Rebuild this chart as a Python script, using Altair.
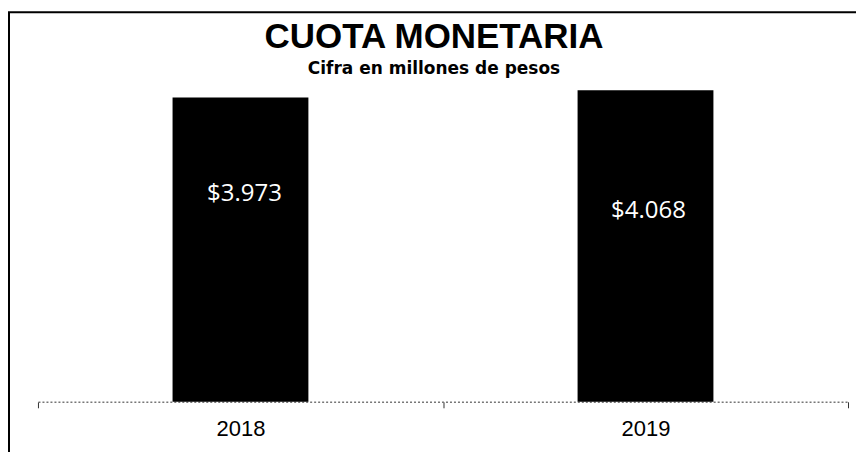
import altair as alt
import pandas as pd

years = ["2018", "2019"]
values = [3973, 4068]
labels = ["$3.973", "$4.068"]

df = pd.DataFrame({"year": years, "value": values, "label": labels})

base = alt.Chart(df)

xenc = alt.X(
    "year:N",
    title=None,
    scale=alt.Scale(paddingInner=0, paddingOuter=0),
    axis=alt.Axis(
        labelAngle=0,
        labelFont="Liberation Sans",
        labelFontSize=22,
        labelColor="black",
        labelPadding=11,
        domainColor="#777777",
        domainDash=[2, 2],
        domainWidth=1.5,
        tickBand="extent",
        tickColor="#333333",
        tickSize=6,
        grid=False,
    ),
)
yenc = alt.Y("value:Q", axis=None, scale=alt.Scale(domain=[0, 4200], nice=False))

bars = base.mark_bar(color="black", width=136).encode(x=xenc, y=yenc)

txt1 = base.transform_filter(alt.datum.year == "2018").mark_text(
    color="white", font="Open Sans", fontSize=24, baseline="alphabetic", dy=104, dx=4
).encode(x=xenc, y=yenc, text="label:N")
txt2 = base.transform_filter(alt.datum.year == "2019").mark_text(
    color="white", font="Open Sans", fontSize=24, baseline="alphabetic", dy=128, dx=3
).encode(x=xenc, y=yenc, text="label:N")

border = alt.Chart(alt.Data(values=[{}])).mark_rect(
    fillOpacity=0, stroke="black", strokeWidth=2
).encode(
    x=alt.value(-29), x2=alt.value(900), y=alt.value(-68), y2=alt.value(600)
)

chart = alt.layer(bars, txt1, txt2, border).properties(
    width=811,
    height=322,
    title=alt.Title(
        "CUOTA MONETARIA",
        subtitle="Cifra en millones de pesos",
        anchor="middle",
        font="Liberation Sans",
        fontSize=35,
        fontWeight="bold",
        color="black",
        subtitleFont="DejaVu Sans",
        subtitleFontSize=17,
        subtitleFontWeight="bold",
        subtitleColor="black",
        subtitlePadding=6,
        offset=-66,
        dx=-9,
    ),
    autosize=alt.AutoSizeParams(type="none"),
    padding={"left": 30, "top": 72, "right": 8, "bottom": 50},
).configure(background="white", view=alt.ViewConfig(stroke="transparent"))

chart.save("out.html", embed_options={"renderer": "svg", "actions": False})
